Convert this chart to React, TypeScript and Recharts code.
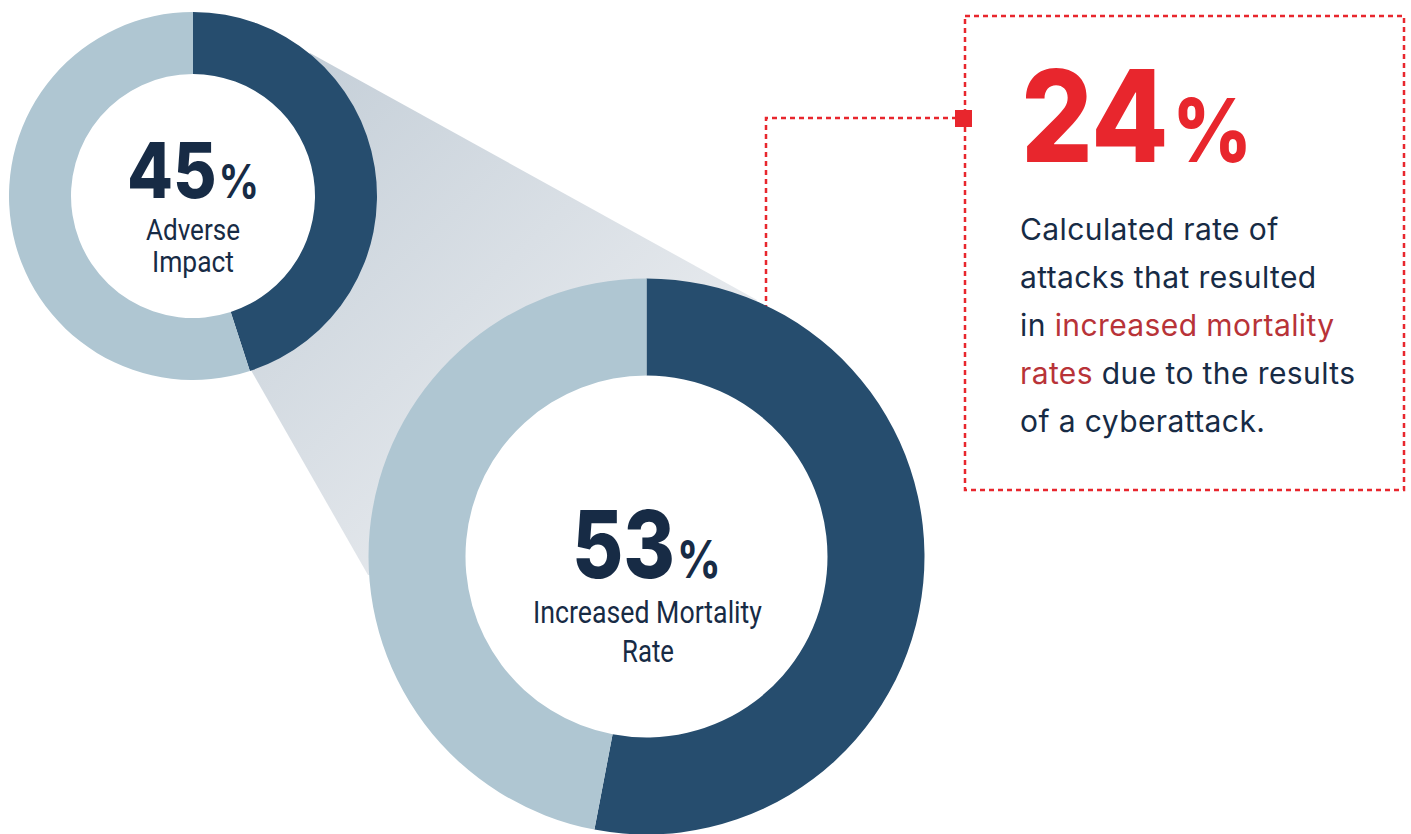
import React from 'react';
import { PieChart, Pie, Cell } from 'recharts';

// ---- data ----
const donutNames = ['Adverse Impact', 'Increased Mortality Rate'];
const donutValues = [45, 53];
const donutLabelLines = [['Adverse', 'Impact'], ['Increased Mortality', 'Rate']];
const highlightValue = 24;
const highlightLines = [
  [{ t: 'Calculated rate of', red: false }],
  [{ t: 'attacks that resulted', red: false }],
  [{ t: 'in ', red: false }, { t: 'increased mortality', red: true }],
  [{ t: 'rates', red: true }, { t: ' due to the results', red: false }],
  [{ t: 'of a cyberattack.', red: false }],
];

const DARK = '#264d6e';
const LIGHT = '#afc6d2';
const NAVY = '#172b45';
const RED = '#e8262d';
const RED_TEXT = '#b83338';

const W = 1411;
const H = 834;

const smallData = [
  { name: donutNames[0], value: donutValues[0] },
  { name: 'Other', value: 100 - donutValues[0] },
];
const largeData = [
  { name: donutNames[1], value: donutValues[1] },
  { name: 'Other', value: 100 - donutValues[1] },
];
const fillData = [{ name: 'hole', value: 1 }];

const NUM_FONT = "Inter, 'Noto Sans', sans-serif";
const COND_FONT = "Roboto, 'Noto Sans', sans-serif";
const BODY_FONT = "Inter, 'Noto Sans', sans-serif";

export default function App() {
  return (
    <div style={{ position: 'absolute', left: 0, top: 0, width: W, height: H, background: '#fff', overflow: 'hidden' }}>
      {/* background layer: funnel and connector */}
      <svg width={W} height={H} style={{ position: 'absolute', left: 0, top: 0 }}>
        <defs>
          <linearGradient id="funnel" gradientUnits="userSpaceOnUse" x1={260} y1={120} x2={640} y2={520}>
            <stop offset="0%" stopColor="#c6d0d9" />
            <stop offset="100%" stopColor="#eceef1" />
          </linearGradient>
        </defs>
        <polygon
          points="310,53 757,300 646,556 368,575 252,372 193,196"
          fill="url(#funnel)"
        />
        <polyline
          points="766,310 766,118 963,118"
          fill="none"
          stroke={RED}
          strokeWidth={2.5}
          strokeDasharray="5 4"
        />
        <rect x={965} y={16} width={439} height={474} fill="none" stroke={RED} strokeWidth={2.5} strokeDasharray="5 4" />
        <rect x={955} y={110} width={17} height={17} fill={RED} />
      </svg>

      {/* chart layer */}
      <div style={{ position: 'absolute', left: 0, top: 0 }}>
        <PieChart width={W} height={H} margin={{ top: 0, right: 0, bottom: 0, left: 0 }}>
          <Pie data={fillData} dataKey="value" cx={193} cy={196} innerRadius={0} outerRadius={123} stroke="none" fill="#ffffff" isAnimationActive={false} />
          <Pie data={smallData} dataKey="value" cx={193} cy={196} innerRadius={122} outerRadius={184} startAngle={90} endAngle={-270} stroke="none" isAnimationActive={false}>
            <Cell fill={DARK} />
            <Cell fill={LIGHT} />
          </Pie>
          <Pie data={fillData} dataKey="value" cx={646.5} cy={556.5} innerRadius={0} outerRadius={182} stroke="none" fill="#ffffff" isAnimationActive={false} />
          <Pie data={largeData} dataKey="value" cx={646.5} cy={556.5} innerRadius={181} outerRadius={278} startAngle={90} endAngle={-270} stroke="none" isAnimationActive={false}>
            <Cell fill={DARK} />
            <Cell fill={LIGHT} />
          </Pie>
        </PieChart>
      </div>

      {/* text layer */}
      <svg width={W} height={H} style={{ position: 'absolute', left: 0, top: 0, pointerEvents: 'none' }}>
        <text x={127} y={198} fill={NAVY} fontFamily={NUM_FONT} fontWeight={800} textLength={132} lengthAdjust="spacingAndGlyphs">
          <tspan fontSize={77}>{donutValues[0]}</tspan>
          <tspan fontSize={46} fontWeight={700} dx={2}>%</tspan>
        </text>
        <text x={146} y={240} fill={NAVY} fontFamily={COND_FONT} fontSize={30} textLength={94} lengthAdjust="spacingAndGlyphs">{donutLabelLines[0][0]}</text>
        <text x={152} y={272} fill={NAVY} fontFamily={COND_FONT} fontSize={30} textLength={82} lengthAdjust="spacingAndGlyphs">{donutLabelLines[0][1]}</text>

        <text x={572} y={578} fill={NAVY} fontFamily={NUM_FONT} fontWeight={800} textLength={149} lengthAdjust="spacingAndGlyphs">
          <tspan fontSize={94}>{donutValues[1]}</tspan>
          <tspan fontSize={52} fontWeight={700} dx={2}>%</tspan>
        </text>
        <text x={533} y={623} fill={NAVY} fontFamily={COND_FONT} fontSize={31} textLength={229} lengthAdjust="spacingAndGlyphs">{donutLabelLines[1][0]}</text>
        <text x={622} y={662} fill={NAVY} fontFamily={COND_FONT} fontSize={31} textLength={52} lengthAdjust="spacingAndGlyphs">{donutLabelLines[1][1]}</text>

        <text x={1021} y={162} fill={RED} fontFamily={NUM_FONT} fontWeight={800} textLength={231} lengthAdjust="spacingAndGlyphs">
          <tspan fontSize={128}>{highlightValue}</tspan>
          <tspan fontSize={88} dx={4}>%</tspan>
        </text>
        {highlightLines.map((line, i) => (
          <text key={i} x={1020} y={240 + i * 48} fill={NAVY} fontFamily={BODY_FONT} fontSize={30} letterSpacing={0.4}>
            {line.map((seg, j) => (
              <tspan key={j} fill={seg.red ? RED_TEXT : NAVY}>{seg.t}</tspan>
            ))}
          </text>
        ))}
      </svg>
    </div>
  );
}
